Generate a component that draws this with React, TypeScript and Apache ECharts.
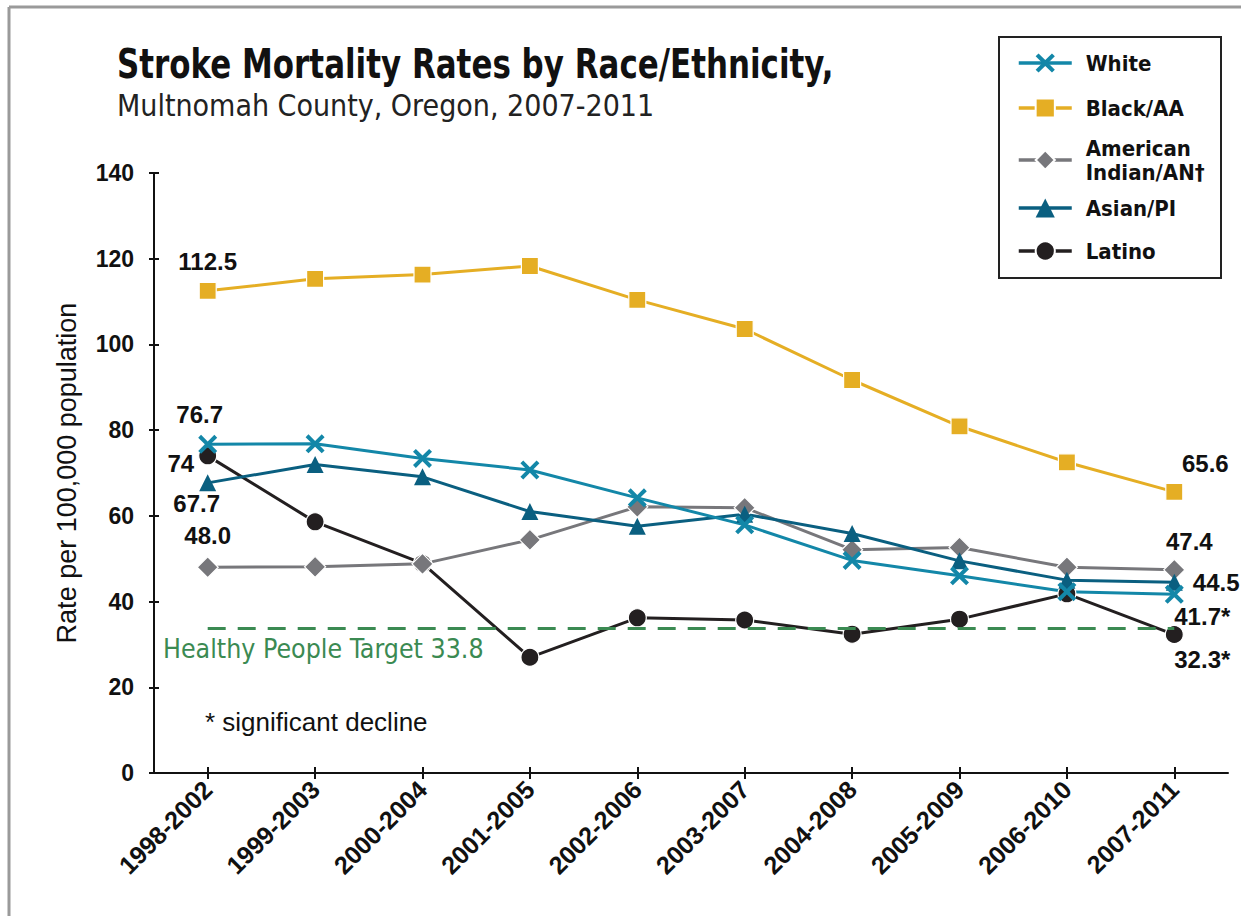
import React, { useEffect, useRef } from "react";
import * as echarts from "echarts";

const categories = [
  "1998-2002", "1999-2003", "2000-2004", "2001-2005", "2002-2006",
  "2003-2007", "2004-2008", "2005-2009", "2006-2010", "2007-2011",
];
const white = [76.7, 76.8, 73.4, 70.7, 64.2, 57.9, 49.6, 46.0, 42.3, 41.7];
const blackAA = [112.5, 115.3, 116.3, 118.3, 110.4, 103.6, 91.7, 80.9, 72.5, 65.6];
const aian = [48.0, 48.1, 48.8, 54.4, 62.1, 61.9, 52.1, 52.6, 48.0, 47.4];
const asian = [67.7, 72.0, 69.1, 61.0, 57.6, 60.4, 55.9, 49.5, 45.0, 44.5];
const latino = [74.0, 58.6, 48.9, 27.0, 36.2, 35.7, 32.4, 35.9, 41.8, 32.3];
const targetValue = 33.8;
const yTicks = [0, 20, 40, 60, 80, 100, 120, 140];

const seriesNames = ["White", "Black/AA", "American\nIndian/AN\u2020", "Asian/PI", "Latino"];
const legendTops = [51, 96, 136, 196, 239];

const COND = "'DejaVu Sans Condensed', 'Liberation Sans Narrow', sans-serif";
const SANS = "'Liberation Sans', Arial, Helvetica, sans-serif";

const X_PATH =
  "path://M3,0 L10,7 L17,0 L20,3 L13,10 L20,17 L17,20 L10,13 L3,20 L0,17 L7,10 L0,3 Z";

const labelBase = {
  show: true,
  fontFamily: SANS,
  fontWeight: "bold" as const,
  fontSize: 24,
  color: "#111",
};

function withLabels(values: number[], labels: Record<number, any>) {
  return values.map((v, i) =>
    labels[i] ? { value: v, label: { ...labelBase, ...labels[i] } } : v
  );
}

export default function App() {
  const ref = useRef<HTMLDivElement>(null);

  useEffect(() => {
    if (!ref.current) return;
    const chart = echarts.init(ref.current, undefined, { renderer: "svg" });

    const lineSeries = (name: string, color: string, symbol: string, size: number, data: any[], border = true) => ({
      name,
      type: "line",
      data,
      symbol,
      symbolSize: size,
      showAllSymbol: true,
      lineStyle: { color, width: 3 },
      itemStyle: { color, borderColor: border ? "#fff" : color, borderWidth: border ? 1.2 : 0 },
      label: { show: false },
      z: 3,
    });

    const legends = seriesNames.map((name, i) => ({
      orient: "vertical",
      left: 1017,
      top: legendTops[i],
      padding: 0,
      itemWidth: 53,
      itemHeight: 24,
      data: [name],
      selectedMode: false,
      lineStyle: { width: 3.5 },
      textStyle: {
        fontFamily: COND,
        fontWeight: "bold",
        fontSize: 22,
        lineHeight: 24,
        color: "#111",
        padding: [0, 0, 0, 9],
      },
    }));

    chart.setOption({
      animation: false,
      backgroundColor: "#fff",
      grid: { left: 154, right: 13, top: 173, bottom: 143 },
      xAxis: [
        {
          type: "category",
          data: categories,
          boundaryGap: true,
          axisLine: { lineStyle: { color: "#111", width: 2 } },
          axisTick: { show: true, alignWithLabel: true, length: 6, lineStyle: { color: "#111", width: 2 } },
          axisLabel: {
            rotate: 45,
            margin: 12,
            fontFamily: SANS,
            fontWeight: "bold",
            fontSize: 25,
            color: "#111",
          },
        },
        {
          type: "category",
          data: categories,
          position: "bottom",
          boundaryGap: true,
          axisLine: { show: false },
          axisTick: { show: true, inside: true, alignWithLabel: true, length: 6, lineStyle: { color: "#111", width: 2 } },
          axisLabel: { show: false },
        },
      ],
      yAxis: [
        {
          type: "value",
          min: yTicks[0],
          max: yTicks[yTicks.length - 1],
          interval: 20,
          splitLine: { show: false },
          axisLine: { show: true, lineStyle: { color: "#111", width: 2 } },
          axisTick: { show: true, length: 5, lineStyle: { color: "#111", width: 2 } },
          axisLabel: {
            margin: 20,
            fontFamily: SANS,
            fontWeight: "bold",
            fontSize: 23,
            color: "#111",
          },
          name: "Rate per 100,000 population",
          nameLocation: "middle",
          nameGap: 74,
          nameTextStyle: { fontFamily: SANS, fontSize: 27, color: "#111" },
        },
        {
          type: "value",
          min: yTicks[0],
          max: yTicks[yTicks.length - 1],
          interval: 20,
          position: "left",
          splitLine: { show: false },
          axisLine: { show: false },
          axisTick: { show: true, inside: true, length: 5, lineStyle: { color: "#111", width: 2 } },
          axisLabel: { show: false },
        },
      ],
      legend: legends,
      series: [
        {
          name: "target",
          type: "line",
          data: [],
          silent: true,
          markLine: {
            silent: true,
            symbol: "none",
            label: { show: false },
            lineStyle: { color: "#3b8a52", width: 3, type: [18, 12] },
            data: [[{ coord: [0, targetValue] }, { coord: [categories.length - 1, targetValue] }]],
          },
          z: 2,
        },
        lineSeries(seriesNames[4], "#231f20", "circle", 18, withLabels(latino, {
          0: { position: "left", distance: 4, offset: [0, 8] },
          9: { position: "bottom", distance: 3, offset: [28, 0], formatter: "{c}*" },
        })),
        lineSeries(seriesNames[2], "#77777b", "diamond", 21, withLabels(aian, {
          0: { position: "top", distance: 9, formatter: (p: any) => p.value.toFixed(1) },
          9: { position: "top", distance: 5, offset: [15, 0] },
        })),
        lineSeries(seriesNames[3], "#0a5f80", "triangle", 17, withLabels(asian, {
          0: { position: "bottom", distance: 0, offset: [-11, 0] },
          9: { position: "right", distance: 10, offset: [0, 0] },
        }), false),
        lineSeries(seriesNames[0], "#1387a8", X_PATH, 19, withLabels(white, {
          0: { position: "top", distance: 8, offset: [-8, 0] },
          9: { position: "bottom", distance: 1, offset: [28, 0], formatter: "{c}*" },
        }), false),
        lineSeries(seriesNames[1], "#e5ae24", "rect", 17, withLabels(blackAA, {
          0: { position: "top", distance: 8 },
          9: { position: "top", distance: 7, offset: [31, 0] },
        })),
      ],
      graphic: [
        { type: "line", shape: { x1: 9, y1: 7, x2: 1241, y2: 7 }, style: { stroke: "#9a9a9a", lineWidth: 3 } },
        { type: "line", shape: { x1: 9, y1: 7, x2: 9, y2: 916 }, style: { stroke: "#9a9a9a", lineWidth: 3 } },
        {
          type: "rect",
          shape: { x: 999, y: 37, width: 222, height: 241 },
          style: { fill: "none", stroke: "#222", lineWidth: 2 },
        },
        {
          type: "text",
          x: 117,
          y: 44,
          scaleX: 0.86,
          style: {
            text: "Stroke Mortality Rates by Race/Ethnicity,",
            x: 0,
            y: 0,
            verticalAlign: "top",
            fontFamily: COND,
            fontWeight: "bold",
            fontSize: 40,
            fill: "#111",
          },
        },
        {
          type: "text",
          left: 117,
          top: 90,
          style: {
            text: "Multnomah County, Oregon, 2007-2011",
            fontFamily: COND,
            fontSize: 30,
            fill: "#222",
          },
        },
        {
          type: "text",
          left: 163,
          top: 635,
          style: {
            text: "Healthy People Target 33.8",
            fontFamily: COND,
            fontSize: 26.5,
            fill: "#3b8a52",
          },
        },
        {
          type: "text",
          left: 205,
          top: 709,
          style: {
            text: "* significant decline",
            fontFamily: SANS,
            fontSize: 26,
            fill: "#111",
          },
        },
      ],
    });

    return () => chart.dispose();
  }, []);

  return <div ref={ref} style={{ width: 1241, height: 916, position: "absolute", left: 0, top: 0 }} />;
}
